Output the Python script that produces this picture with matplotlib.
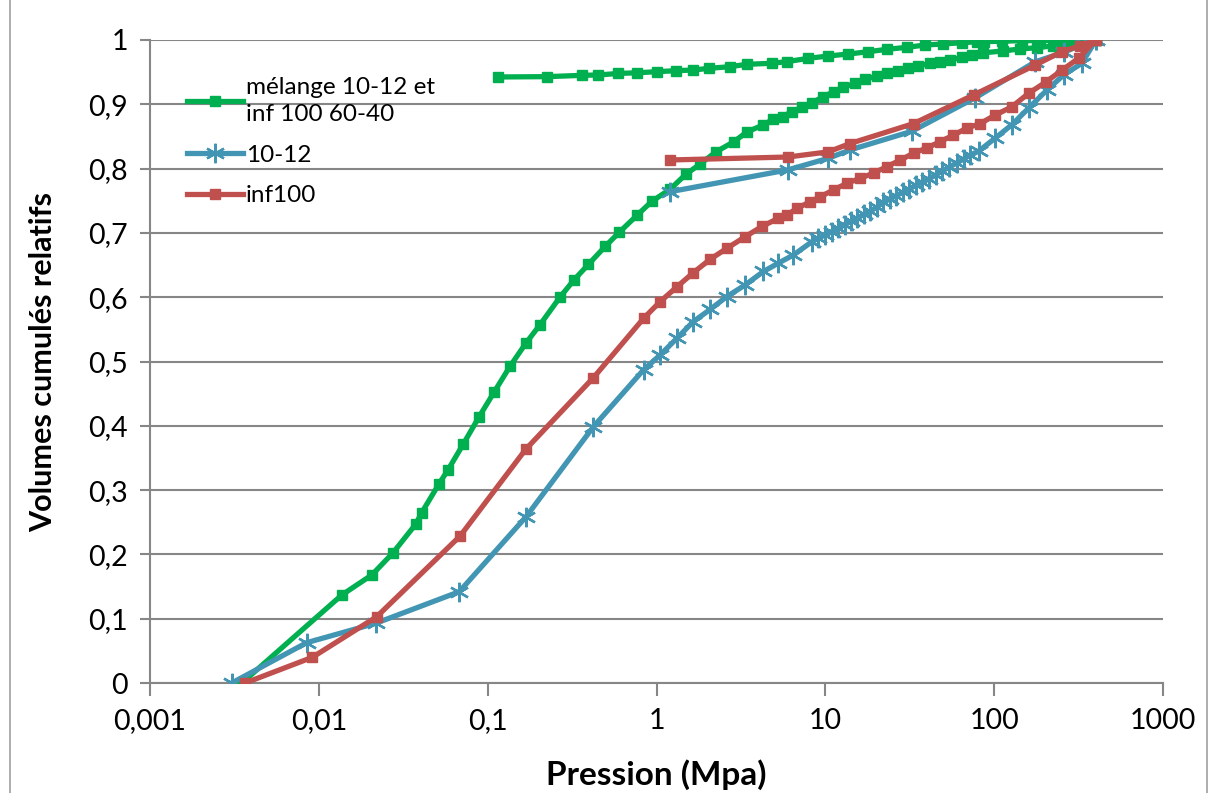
import numpy as np
import matplotlib
matplotlib.use("Agg")
import matplotlib.pyplot as plt
from matplotlib.ticker import FixedLocator, FixedFormatter, NullLocator
from matplotlib.patches import Rectangle

plt.rcParams['font.family'] = ['Lato', 'DejaVu Sans']

# ---------------------------------------------------------------------------
# data (pressure in MPa, relative cumulated volume)
# ---------------------------------------------------------------------------

# mélange 10-12 et inf 100 60-40 : intrusion (rising) then extrusion (back)
melange_intr_p = [0.0035, 0.0137, 0.0206, 0.0274, 0.0375, 0.0407, 0.0513, 0.0581, 0.0715,
                  0.0885, 0.109, 0.136, 0.169, 0.204, 0.268, 0.325, 0.395, 0.497, 0.602,
                  0.771, 0.938, 1.205, 1.49, 1.81, 2.25, 2.88, 3.43, 4.30, 4.93, 5.6,
                  6.33, 7.26, 8.32, 9.75, 11.2, 12.8, 15.0, 17.2, 20.2, 23.1, 27.1, 31.0,
                  35.6, 41.8, 47.9, 54.9, 64.4, 73.8, 86, 113, 142, 179, 224, 282, 338, 400]
melange_intr_v = [0.0, 0.137, 0.168, 0.202, 0.247, 0.265, 0.309, 0.331, 0.371,
                  0.413, 0.452, 0.493, 0.529, 0.557, 0.600, 0.627, 0.651, 0.679, 0.701,
                  0.728, 0.749, 0.768, 0.791, 0.807, 0.826, 0.842, 0.857, 0.868, 0.877, 0.881,
                  0.8885, 0.8953, 0.9025, 0.9118, 0.9196, 0.9264, 0.9327, 0.9389, 0.944, 0.9482, 0.9523, 0.956,
                  0.9596, 0.9638, 0.9663, 0.9689, 0.9731, 0.9767, 0.980, 0.983, 0.986, 0.988, 0.991, 0.994, 0.997, 1.0]
melange_extr_p = [400, 316, 244, 187, 146, 111, 86.5, 78.9, 64.4, 50.1, 39.0, 30.4, 23.1,
                  18.0, 13.7, 10.4, 7.94, 5.92, 4.82, 3.43, 2.73, 2.06, 1.65, 1.31, 1.004,
                  0.764, 0.594, 0.453, 0.360, 0.224, 0.1156]
melange_extr_v = [1.0, 1.0, 1.0, 0.999, 0.999, 0.998, 0.9975, 0.9972, 0.9958, 0.9938, 0.9922, 0.9886, 0.9855,
                  0.9818, 0.9782, 0.9751, 0.9715, 0.9663, 0.9638, 0.9622, 0.9585, 0.956, 0.9533, 0.9523, 0.9507,
                  0.949, 0.948, 0.9456, 0.945, 0.943, 0.9425]

# 10-12
s1012_intr_p = [0.00305, 0.00847, 0.0218, 0.0679, 0.169, 0.423, 0.838, 1.05, 1.32, 1.65, 2.08,
                2.61, 3.35, 4.30, 5.27, 6.47, 8.3, 9.1, 10.0, 10.9, 11.9, 13.0, 14.2, 15.5,
                17.0, 18.5, 20.2, 22.1, 24.1, 26.3, 28.8, 31.4, 34.3, 37.5, 41, 45, 49, 54,
                60, 66, 72, 80.8, 101, 127, 160, 205, 258, 331, 400]
s1012_intr_v = [0.0, 0.0627, 0.093, 0.142, 0.2587, 0.3986, 0.487, 0.510, 0.536, 0.562, 0.581,
                0.601, 0.619, 0.640, 0.653, 0.6656, 0.686, 0.692, 0.697, 0.702, 0.707, 0.713, 0.718, 0.723,
                0.729, 0.734, 0.740, 0.748, 0.753, 0.758, 0.763, 0.768, 0.774, 0.779, 0.784, 0.790, 0.796, 0.802,
                0.809, 0.815, 0.821, 0.827, 0.847, 0.868, 0.894, 0.922, 0.9456, 0.9638, 1.0]
s1012_extr_p = [400, 340, 259, 175, 77, 32.5, 14.0, 10.4, 6.0, 1.2]
s1012_extr_v = [1.0, 0.994, 0.981, 0.966, 0.910, 0.858, 0.829, 0.816, 0.798, 0.764]

# inf100
inf100_intr_p = [0.00366, 0.00916, 0.0220, 0.0687, 0.168, 0.423, 0.838, 1.05, 1.32, 1.65, 2.08,
                 2.61, 3.35, 4.21, 5.27, 5.92, 6.78, 8.13, 9.31, 11.2, 13.4, 16.1, 19.3, 23.1,
                 27.7, 33.3, 39.9, 47.9, 57.4, 68.9, 82.6, 101, 127, 160, 203, 252, 316, 400]
inf100_intr_v = [0.0, 0.040, 0.103, 0.2286, 0.3634, 0.4748, 0.567, 0.593, 0.616, 0.638, 0.659,
                 0.676, 0.694, 0.710, 0.7227, 0.7278, 0.738, 0.7485, 0.756, 0.767, 0.777, 0.785, 0.793, 0.803,
                 0.813, 0.824, 0.832, 0.842, 0.852, 0.863, 0.870, 0.883, 0.896, 0.917, 0.935, 0.953, 0.9715, 1.0]
inf100_extr_p = [400, 323, 252, 175, 75.5, 33.3, 14.0, 10.4, 6.0, 1.2]
inf100_extr_v = [1.0, 0.991, 0.982, 0.961, 0.9145, 0.870, 0.839, 0.826, 0.818, 0.8134]

x_ticks = [0.001, 0.01, 0.1, 1, 10, 100, 1000]
x_tick_labels = ["0,001", "0,01", "0,1", "1", "10", "100", "1000"]
y_ticks = [0, 0.1, 0.2, 0.3, 0.4, 0.5, 0.6, 0.7, 0.8, 0.9, 1.0]
y_tick_labels = ["0", "0,1", "0,2", "0,3", "0,4", "0,5", "0,6", "0,7", "0,8", "0,9", "1"]

GREEN = '#00B050'
BLUE = '#4396B3'
RED = '#C0504D'
GRID = '#868686'

fig = plt.figure(figsize=(12.17, 7.93), dpi=100)
ax = fig.add_axes([150 / 1217, 1 - 683 / 793, (1163 - 150) / 1217, (683 - 40) / 793])

ax.plot(melange_intr_p + melange_extr_p, melange_intr_v + melange_extr_v,
        color=GREEN, lw=3.8, marker='s', markersize=7, label="mélange 10-12 et\ninf 100 60-40",
        solid_joinstyle='round', zorder=3)
ax.plot(s1012_intr_p + s1012_extr_p, s1012_intr_v + s1012_extr_v,
        color=BLUE, lw=3.8, marker=(6, 2, 0), markersize=14, markeredgewidth=1.7,
        label="10-12", solid_joinstyle='round', zorder=4)
ax.plot(inf100_intr_p + inf100_extr_p, inf100_intr_v + inf100_extr_v,
        color=RED, lw=3.8, marker='s', markersize=7, label="inf100",
        solid_joinstyle='round', zorder=5)

ax.set_xscale('log')
ax.set_xlim(0.001, 1000)
ax.set_ylim(0, 1)
ax.xaxis.set_major_locator(FixedLocator(x_ticks))
ax.xaxis.set_major_formatter(FixedFormatter(x_tick_labels))
ax.xaxis.set_minor_locator(NullLocator())
ax.yaxis.set_major_locator(FixedLocator(y_ticks))
ax.yaxis.set_major_formatter(FixedFormatter(y_tick_labels))

ax.grid(axis='y', color=GRID, lw=1.5)
ax.set_axisbelow(True)
for side in ['top', 'right']:
    ax.spines[side].set_visible(False)
for side in ['left', 'bottom']:
    ax.spines[side].set_color(GRID)
    ax.spines[side].set_linewidth(1.5)
ax.tick_params(axis='x', direction='out', length=9, width=1.5, color=GRID, labelsize=20.5, pad=9)
ax.tick_params(axis='y', direction='out', length=7, width=1.5, color=GRID, labelsize=20.5, pad=9)

ax.set_xlabel("Pression (Mpa)", fontsize=24, fontweight='bold', labelpad=18)
ax.set_ylabel("Volumes cumulés relatifs", fontsize=22, fontweight='bold', labelpad=22)

leg = ax.legend(loc='upper left', bbox_to_anchor=(0.027, 0.957), frameon=False, fontsize=17.5,
                handlelength=2.3, handletextpad=0.12, labelspacing=0.8, borderaxespad=0)
for t in leg.get_texts():
    t.set_linespacing(1.35)

fig.add_artist(Rectangle((10 / 1217, -0.01), 1197 / 1217, 1.05, transform=fig.transFigure,
                         fill=False, edgecolor='#A0A0A0', lw=1.2))

fig.savefig("out.png", dpi=100)
